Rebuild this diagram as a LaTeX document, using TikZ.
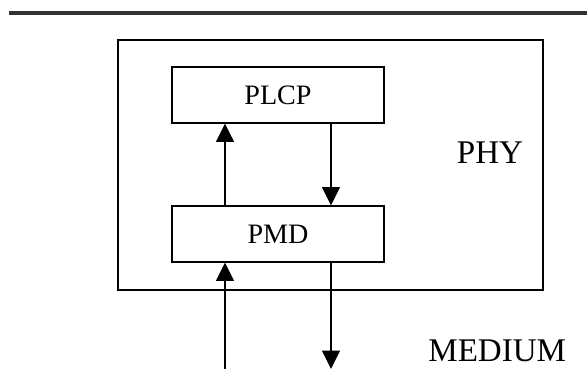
\documentclass[tikz,border=0pt]{standalone}
\usepackage{fontspec}
\setmainfont{Liberation Serif}
\usetikzlibrary{arrows.meta,calc,positioning}

\begin{document}
\begin{tikzpicture}[layer/.style={draw,line width=1.4pt,minimum width=5.3cm,minimum height=1.38cm,inner sep=0pt,font=\fontsize{20}{22}\selectfont},
    flow/.style={line width=1pt,-{Triangle[width=0.45cm,length=0.46cm]}}]
            \useasboundingbox (0,0) rectangle (14.675,9.225);
            \draw[line width=2.8pt,black!80] (0.225,8.9) -- (14.675,8.9);
            \draw[line width=1.4pt] (2.96,1.975) rectangle (13.575,8.225);
            \node[layer] (plcp) at (6.95,6.85) {PLCP};
            \node[layer] (pmd) at (6.95,3.375) {PMD};
            \node[font=\fontsize{23.5}{26}\selectfont] (phy) at (12.25,5.4) {PHY};
            \node[font=\fontsize{23.5}{26}\selectfont] (medium) at (12.43,0.45) {MEDIUM};
            \coordinate (rx) at (5.625,0);
            \coordinate (tx) at (8.275,0);
            \draw[flow] (rx) -- (rx |- pmd.south);
            \draw[flow] (rx |- pmd.north) -- (rx |- plcp.south);
            \draw[flow] (plcp.south -| tx) -- (pmd.north -| tx);
            \draw[flow] (pmd.south -| tx) -- (tx);
        \end{tikzpicture}
\end{document}
